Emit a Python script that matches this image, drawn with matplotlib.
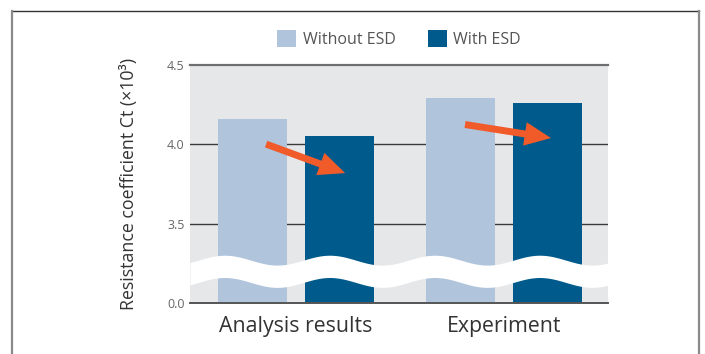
import numpy as np
import matplotlib
matplotlib.use("Agg")
import matplotlib.pyplot as plt
from matplotlib.lines import Line2D
from matplotlib.patches import FancyArrowPatch

plt.rcParams['font.family'] = ['Open Sans', 'DejaVu Sans']

# Data
categories = ["Analysis results", "Experiment"]
series_names = ["Without ESD", "With ESD"]
without_esd = [4.16, 4.29]
with_esd = [4.05, 4.26]
tick_values = [3.0, 3.5, 4.0, 4.5]
tick_labels = ["0.0", "3.5", "4.0", "4.5"]

light_blue = "#b0c4dc"
dark_blue = "#005a8c"
bg_gray = "#e6e7e9"
arrow_col = "#f15a29"

fig = plt.figure(figsize=(7.05, 3.54), dpi=100)
ax = fig.add_axes([190 / 705, 1 - 303.3 / 354, 418 / 705, (303.3 - 64.5) / 354])
ax.set_facecolor(bg_gray)

x = np.arange(len(categories))
bw = 0.332
off = 0.209
ax.bar(x - off, without_esd, bw, color=light_blue, zorder=3, label=series_names[0])
ax.bar(x + off, with_esd, bw, color=dark_blue, zorder=3, label=series_names[1])

ax.set_xlim(-0.51, 1.5)
ax.set_ylim(3.0, 4.5)

# horizontal reference lines
for v in tick_values[1:3]:
    ax.axhline(v, color="#3a3a3a", lw=1.0, zorder=2)
ax.axhline(4.5, color="#6e6e6e", lw=1.6, zorder=2, clip_on=False)
ax.axhline(3.0, color="#555555", lw=1.4, zorder=6, clip_on=False)

# axis-break band
xs = np.linspace(-0.51, 1.5, 400)
mid = 3.201 - 0.031 * np.cos(2 * np.pi * (xs + 0.091) / 0.505)
ax.fill_between(xs, mid - 0.07, mid + 0.07, color="white", lw=0, zorder=5)

for s in ax.spines.values():
    s.set_visible(False)
ax.set_yticks(tick_values)
ax.set_yticklabels(tick_labels, fontsize=9, color="#666666")
ax.tick_params(axis="y", length=0, pad=4)
ax.set_xticks(x)
ax.set_xticklabels(categories, fontsize=15.3, color="#333333")
ax.tick_params(axis="x", length=0, pad=9)
ax.set_ylabel("Resistance coefficient Ct (×10³)", fontsize=12.8, color="#333333", labelpad=21)

# change arrows
arrow_style = "simple,head_length=19,head_width=17,tail_width=5"
for (x0, y0), (x1, y1) in [((-0.144, 4.0), (0.236, 3.818)), ((0.8125, 4.123), (1.226, 4.038))]:
    ax.add_patch(FancyArrowPatch((x0, y0), (x1, y1), arrowstyle=arrow_style, mutation_scale=1,
                                 color=arrow_col, lw=0, shrinkA=0, shrinkB=0, zorder=7))

leg = ax.legend(loc="center", bbox_to_anchor=(0.5, 1.107), ncol=2, frameon=False,
                fontsize=11.5, handlelength=1.2, handleheight=1.2, handletextpad=0.4,
                columnspacing=2.0, labelcolor="#555555", borderpad=0)

# outer frame
fig.add_artist(Line2D([12 / 705, 699 / 705], [1 - 11 / 354] * 2, color="#333333", lw=1.0))
fig.add_artist(Line2D([12 / 705] * 2, [0, 1 - 11 / 354], color="#8a8a8a", lw=1.6))
fig.add_artist(Line2D([699 / 705] * 2, [0, 1 - 11 / 354], color="#8a8a8a", lw=1.6))

fig.savefig("out.png", dpi=100)
